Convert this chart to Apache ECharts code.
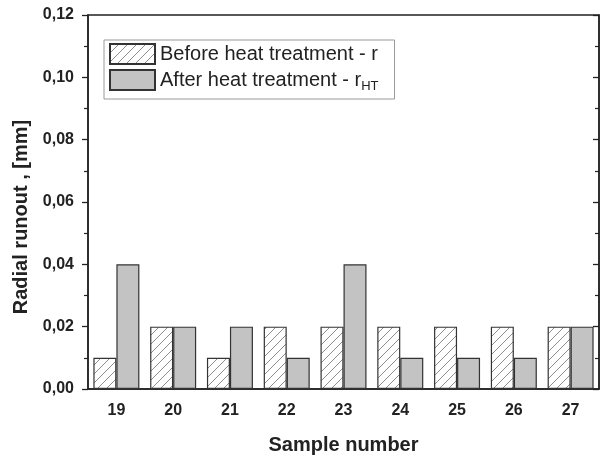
<!DOCTYPE html>
<html><head><meta charset="utf-8">
<script src="https://cdn.jsdelivr.net/npm/echarts@6/dist/echarts.min.js"></script>
<style>html,body{margin:0;padding:0;background:#fff}#c{width:609px;height:457px}</style>
</head><body><div id="c"></div>
<script>
const categories = ['19','20','21','22','23','24','25','26','27'];
const beforeValues = [0.01,0.02,0.01,0.02,0.02,0.02,0.02,0.02,0.02];
const afterValues = [0.04,0.02,0.02,0.01,0.04,0.01,0.01,0.01,0.02];
const yTicks = [0,0.02,0.04,0.06,0.08,0.10,0.12];

function hatch(){
  const s = 9, c = document.createElement('canvas');
  c.width = s; c.height = s;
  const g = c.getContext('2d');
  g.fillStyle = '#fff'; g.fillRect(0,0,s,s);
  g.strokeStyle = '#707070'; g.lineWidth = 0.8;
  g.beginPath();
  g.moveTo(0,s); g.lineTo(s,0);
  g.moveTo(-s/2,s/2); g.lineTo(s/2,-s/2);
  g.moveTo(s/2,s*1.5); g.lineTo(s*1.5,s/2);
  g.stroke();
  return c;
}
const chart = echarts.init(document.getElementById('c'));
const fmt = v => v.toFixed(2).replace('.', ',');
chart.setOption({
  animation:false,
  grid:{left:88,right:10,top:15,bottom:68,containLabel:false,outerBoundsMode:'none',show:true,borderColor:'#222',borderWidth:1.5},
  legend:{
    left:104, top:40, orient:'vertical', icon:'rect', itemWidth:45, itemHeight:20, itemGap:4,
    padding:[3,16,6,5], borderColor:'#999', borderWidth:1,
    textStyle:{fontFamily:'Liberation Sans, Arial', fontSize:20, color:'#222',
      rich:{a:{fontFamily:'Liberation Sans', fontSize:20, color:'#222'}, s:{fontFamily:'Liberation Sans', fontSize:13, color:'#222', padding:[13,0,0,0]}}},
    formatter: n => n.indexOf('After')===0 ? '{a|After heat treatment - r}{s|HT}' : n,
    data:['Before heat treatment - r','After heat treatment - r']
  },
  xAxis:{
    type:'category', data:categories,
    name:'Sample number', nameLocation:'middle', nameGap:46,
    nameTextStyle:{fontFamily:'Liberation Sans', fontWeight:'bold', fontSize:20, color:'#222'},
    axisLine:{lineStyle:{color:'#222',width:1.5}},
    axisTick:{alignWithLabel:true,length:6,lineStyle:{color:'#222',width:1.3}},
    axisLabel:{fontFamily:'Liberation Sans', fontWeight:'bold', fontSize:16, color:'#222', margin:14}
  },
  yAxis:[{
    type:'value', min:yTicks[0], max:yTicks[yTicks.length-1], interval:0.02,
    name:'Radial runout , [mm]', nameLocation:'middle', nameGap:56,
    nameTextStyle:{fontFamily:'Liberation Sans', fontWeight:'bold', fontSize:20, color:'#222', padding:[0,30,0,0]},
    axisLine:{show:true,lineStyle:{color:'#222',width:1.5}},
    axisTick:{show:true,length:6,lineStyle:{color:'#222',width:1.3}},
    minorTick:{show:true,splitNumber:2,length:4,lineStyle:{color:'#222',width:1.2}},
    splitLine:{show:false},
    axisLabel:{formatter:fmt,fontFamily:'Liberation Sans', fontWeight:'bold', fontSize:16, color:'#222', margin:14}
  },{
    type:'value', position:'right', min:yTicks[0], max:yTicks[yTicks.length-1], interval:0.02,
    axisLine:{show:true,lineStyle:{color:'#222',width:1.5}},
    axisTick:{show:true,inside:true,length:6,lineStyle:{color:'#222',width:1.3}},
    minorTick:{show:true,splitNumber:2,length:4,lineStyle:{color:'#222',width:1.2}},
    splitLine:{show:false}, axisLabel:{show:false}
  }],
  series:[{
    name:'Before heat treatment - r', type:'bar', data:beforeValues, barWidth:23, barGap:'0%',
    itemStyle:{color:{image:hatch(),repeat:'repeat'}, borderColor:'#333', borderWidth:1.2}
  },{
    name:'After heat treatment - r', type:'bar', data:afterValues, barWidth:23,
    itemStyle:{color:'#c3c3c3', borderColor:'#333', borderWidth:1.2}
  }]
});
</script></body></html>
